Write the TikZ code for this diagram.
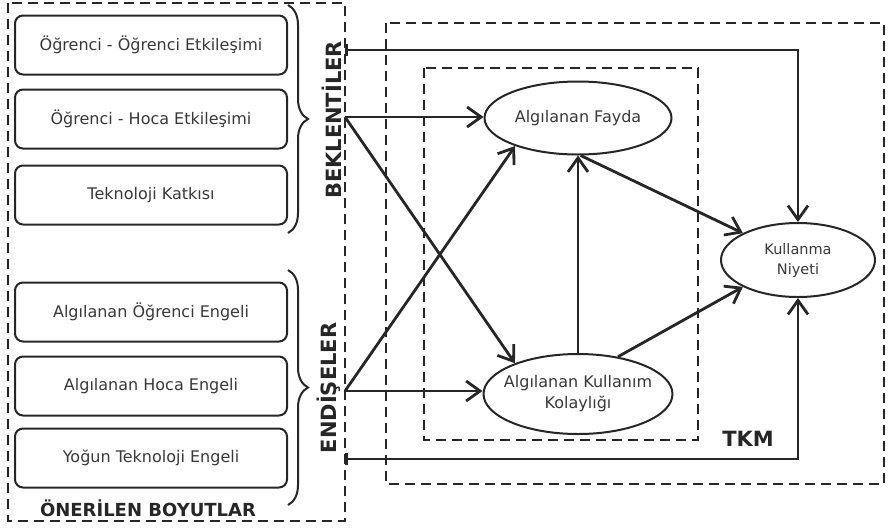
\documentclass[tikz,border=0pt]{standalone}
\usepackage{fontspec}
\setmainfont{DejaVu Sans}
\usetikzlibrary{arrows.meta,shapes.geometric,decorations.pathreplacing}
\definecolor{ink}{HTML}{262626}
\definecolor{txt}{HTML}{383838}
\begin{document}
\begin{tikzpicture}[x=1pt, y=-1pt,
    dimbox/.style={draw=ink, line width=2pt, rounded corners=8pt, minimum width=272pt, minimum height=59pt, text=txt, font=\fontsize{16}{19}\selectfont},
    construct/.style={ellipse, draw=ink, line width=2pt, inner sep=0pt, text=txt, align=center, font=\fontsize{16}{21}\selectfont},
    frame/.style={draw=ink, dash pattern=on 10pt off 6pt, line width=2pt},
    heading/.style={text=ink, font=\bfseries\fontsize{21}{24}\selectfont},
    link/.style={draw=ink, line width=2.8pt, -{Straight Barb[length=14pt,width=20pt]}},
    barlink/.style={link, {Bar[width=12pt]}-{Straight Barb[length=14pt,width=20pt]}}]
  \useasboundingbox (0,0) rectangle (890,528);
  \draw[frame] (8,3) rectangle (345,521);
  \draw[frame] (386,23) rectangle (884,484);
  \draw[frame] (424,68) rectangle (698,440);

  \node[dimbox] (oo) at (151,45) {Öğrenci - Öğrenci Etkileşimi};
  \node[dimbox] (oh) at (151,119) {Öğrenci - Hoca Etkileşimi};
  \node[dimbox] (tk) at (151,195) {Teknoloji Katkısı};
  \node[dimbox] (aoe) at (151,312) {Algılanan Öğrenci Engeli};
  \node[dimbox] (ahe) at (151,386) {Algılanan Hoca Engeli};
  \node[dimbox] (yte) at (151,458) {Yoğun Teknoloji Engeli};
  \draw[ink, line width=2pt, decorate, decoration={brace, amplitude=20pt}] (288,5) -- (288,233);
  \draw[ink, line width=2pt, decorate, decoration={brace, amplitude=20pt}] (288,270) -- (288,505);

  \node[heading, rotate=90] (bek) at (332,120) {BEKLENTİLER};
  \node[heading, rotate=90] (end) at (329,388) {ENDİŞELER};
  \node[heading, font=\bfseries\fontsize{18}{22}\selectfont] (oneri) at (148,508) {ÖNERİLEN BOYUTLAR};
  \node[heading] (tkm) at (748,439) {TKM};

  \node[construct, minimum width=187pt, minimum height=73pt] (af) at (578,118) {Algılanan Fayda};
  \node[construct, inner xsep=-8pt, minimum width=189pt, minimum height=80pt] (akk) at (578,394) {Algılanan Kullanım\\Kolaylığı};
  \node[construct, minimum width=154pt, minimum height=74pt, font=\fontsize{14.5}{20}\selectfont] (kn) at (798,260) {Kullanma\\Niyeti};

  \coordinate (b1) at (345,50);
  \coordinate (b2) at (345,117);
  \coordinate (e1) at (345,391);
  \coordinate (e2) at (345,459);
  \draw[barlink] (b1) -| (kn.north);
  \draw[link] (b2) -- (b2 -| af.west);
  \draw[link] (b2) -- (akk.154);
  \draw[link] (e1) -- (e1 -| akk.west);
  \draw[link] (e1) -- (af.204);
  \draw[barlink] (e2) -| (kn.south);
  \draw[link] (akk.north) -- (af.south);
  \draw[link] (af.-86) -- (kn.154);
  \draw[link] (akk.43) -- (kn.206);
\end{tikzpicture}
\end{document}
